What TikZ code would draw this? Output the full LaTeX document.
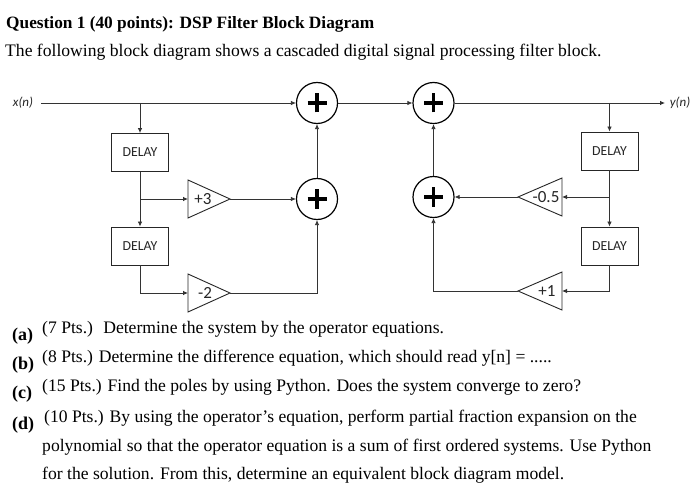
\documentclass[tikz,border=0pt]{standalone}
\usepackage{fontspec}
\setmainfont{Liberation Serif}
\newfontfamily\diagfont{Carlito}
\usetikzlibrary{arrows.meta}
\begin{document}
\begin{tikzpicture}[x=1pt,y=-1pt,
  wire/.style={draw=black!80, line width=0.8pt},
  arr/.style={wire, -{Latex[length=5pt,width=4.5pt]}},
  delaybox/.style={draw=black!85, line width=0.9pt, minimum width=57pt, minimum height=38pt, inner sep=0pt, font=\diagfont\fontsize{13.8}{13.8}\selectfont, text=black!85},
  adder/.style={circle, draw=black, line width=1.2pt, minimum size=41pt, inner sep=0pt,
    path picture={\draw[line width=3.3pt, black] ([xshift=-9.5pt]path picture bounding box.center) -- ([xshift=9.5pt]path picture bounding box.center);
                  \draw[line width=3.3pt, black] ([yshift=-9.5pt]path picture bounding box.center) -- ([yshift=9.5pt]path picture bounding box.center);}},
  gaintri/.style={draw=black!85, line width=0.9pt, fill=white},
  gainlabel/.style={font=\diagfont\fontsize{17}{17}\selectfont, text=black!85, inner sep=0pt},
  sig/.style={font=\diagfont\itshape\fontsize{13}{13}\selectfont, text=black!85, inner sep=0pt},
  body/.style={anchor=base west, inner sep=0pt, font=\fontsize{17.6}{17.6}\selectfont},
  item/.style={anchor=base west, inner sep=0pt, font=\bfseries\fontsize{18}{18}\selectfont}]
\useasboundingbox (0,0) rectangle (700,494);
\fill[white] (0,0) rectangle (700,494);

% texts
\node[body, font=\bfseries\fontsize{17.3}{17.3}\selectfont] (title) at (6,29) {Question 1 (40 points): DSP Filter Block Diagram};
\node[body] (intro) at (5,57) {The following block diagram shows a cascaded digital signal processing filter block.};
\node[item] (la) at (12,340) {(a)};
\node[body] (ta) at (42,333) {(7 Pts.) \ Determine the system by the operator equations.};
\node[item] (lb) at (12,369) {(b)};
\node[body] (tb) at (42,362) {(8 Pts.) Determine the difference equation, which should read y[n] = .....};
\node[item] (lc) at (12,398) {(c)};
\node[body] (tc) at (42,391) {(15 Pts.) Find the poles by using Python. Does the system converge to zero?};
\node[item] (ld) at (12,429) {(d)};
\node[body] (td) at (44,422) {(10 Pts.) By using the operator’s equation, perform partial fraction expansion on the};
\node[body] (td2) at (42,451) {polynomial so that the operator equation is a sum of first ordered systems. Use Python};
\node[body] (td3) at (42,479) {for the solution. From this, determine an equivalent block diagram model.};

% nodes
\node[sig] (xn) at (23,103) {x(n)};
\node[sig] (yn) at (680,103) {y(n)};
\coordinate (xin) at (41,103);
\coordinate (yout) at (665,103);
\node[adder] (a1) at (317,103) {};
\node[adder] (a3) at (433.5,103) {};
\node[adder] (a2) at (317,199) {};
\node[adder] (a4) at (433.5,197) {};
\node[delaybox] (d1) at (140,152.5) {DELAY};
\node[delaybox] (d2) at (140,246) {DELAY};
\node[delaybox] (d3) at (609.5,151) {DELAY};
\node[delaybox] (d4) at (609.5,246) {DELAY};

% gain triangles
\coordinate (g3in) at (188,199); \coordinate (g3out) at (230,199);
\coordinate (g2in) at (188,293); \coordinate (g2out) at (230,293);
\coordinate (g5in) at (562,197); \coordinate (g5out) at (518,197);
\coordinate (g1in) at (562,291); \coordinate (g1out) at (518,291);
\draw[gaintri] (188,180) -- (g3out) -- (188,218) -- cycle;
\draw[gaintri] (188,274) -- (g2out) -- (188,312) -- cycle;
\draw[gaintri] (562,178) -- (g5out) -- (562,216) -- cycle;
\draw[gaintri] (562,272) -- (g1out) -- (562,310) -- cycle;
\node[gainlabel] (l3) at (203,199) {+3};
\node[gainlabel] (l2) at (205,293) {-2};
\node[gainlabel] (l5) at (546,197) {-0.5};
\node[gainlabel] (l1) at (547,291) {+1};

% junctions
\coordinate (j1) at (140,103);
\coordinate (j2) at (140,199);
\coordinate (j3) at (609.5,103);
\coordinate (j4) at (609.5,197);

% connectors
\draw[arr] (xin) -- (a1.west);
\draw[arr] (j1) -- (d1.north);
\draw[arr] (d1.south) -- (d2.north);
\draw[arr] (j2) -- (g3in);
\draw[arr] (g3out) -- (a2.west);
\draw[arr] (d2.south) |- (g2in);
\draw[arr] (g2out) -| (a2.south);
\draw[arr] (a2.north) -- (a1.south);
\draw[arr] (a1.east) -- (a3.west);
\draw[arr] (a3.east) -- (yout);
\draw[arr] (j3) -- (d3.north);
\draw[arr] (d3.south) -- (d4.north);
\draw[arr] (j4) -- (g5in);
\draw[arr] (g5out) -- (a4.east);
\draw[arr] (d4.south) |- (g1in);
\draw[arr] (g1out) -| (a4.south);
\draw[arr] (a4.north) -- (a3.south);
\end{tikzpicture}
\end{document}
